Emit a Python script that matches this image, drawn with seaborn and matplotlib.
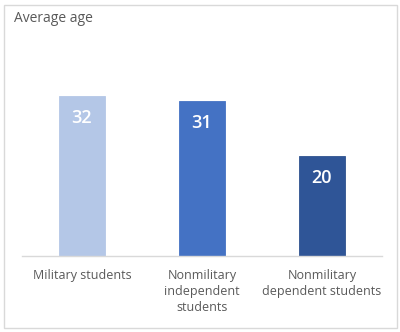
import matplotlib
matplotlib.use("Agg")
import matplotlib.pyplot as plt
import seaborn as sns
import pandas as pd
from matplotlib.patches import Rectangle

categories = ["Military students", "Nonmilitary\nindependent\nstudents", "Nonmilitary\ndependent students"]
values = [32, 31, 20]
colors = ["#B4C7E7", "#4472C4", "#2F5597"]

sns.set_theme(style="white")
plt.rcParams['font.family'] = ['Open Sans', 'DejaVu Sans']

df = pd.DataFrame({"cat": categories, "val": values})

fig = plt.figure(figsize=(4.0, 3.32), dpi=100)
ax = fig.add_axes([22/400, 76/332, 360/400, 200/332])
sns.barplot(data=df, x="cat", y="val", hue="cat", palette=colors, legend=False,
            width=0.39, ax=ax, saturation=1)
for p in ax.patches:
    p.set_edgecolor("#2F528F")
    p.set_linewidth(0.6)
ax.patches[0].set_edgecolor(colors[0])
ax.patches[1].set_edgecolor(colors[1])
ax.set_xlim(-0.5, 2.5)
ax.set_ylim(0, 40)
ax.set_xlabel("")
ax.set_ylabel("")
ax.set_yticks([])
for s in ["top", "left", "right"]:
    ax.spines[s].set_visible(False)
ax.spines["bottom"].set_color("#D9D9D9")
ax.spines["bottom"].set_linewidth(1)
ax.tick_params(axis="x", length=0, pad=9.5, labelsize=9, labelcolor="#595959")
for lab in ax.get_xticklabels():
    lab.set_linespacing(1.3)
    lab.set_verticalalignment("top")
for i, v in enumerate(values):
    ax.text(i, v - 4.4, str(v), ha="center", va="center", color="white", fontsize=13,
            fontweight="semibold")

fig.text(14/400, 1 - 18/332, "Average age", ha="left", va="center", fontsize=10, color="#595959")
fig.patches.append(Rectangle((4/400, 4/332), 393/400, 323/332, transform=fig.transFigure,
                             fill=False, edgecolor="#D9D9D9", linewidth=1))
fig.savefig("out.png", dpi=100)
